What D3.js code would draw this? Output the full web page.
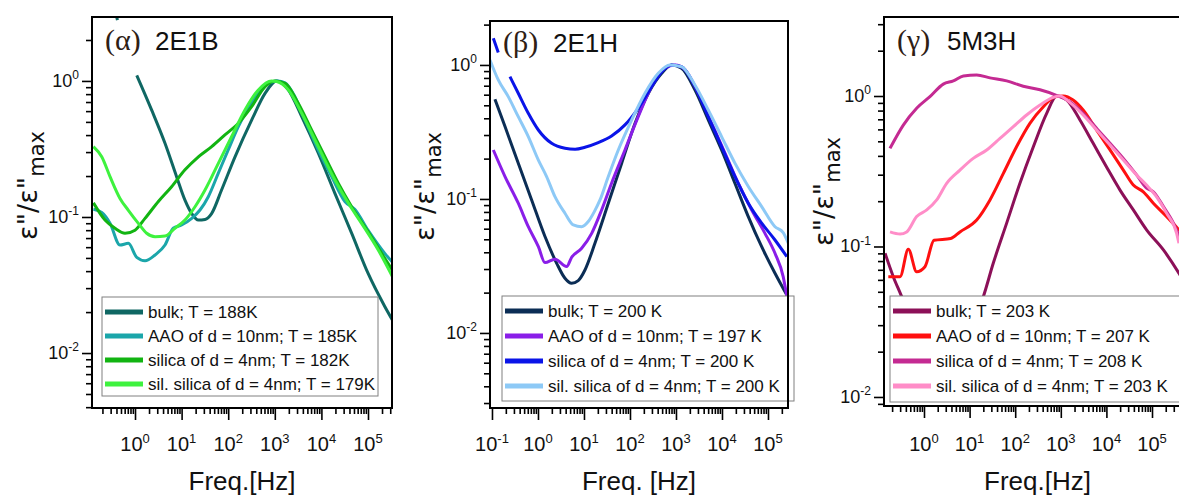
<!DOCTYPE html>
<html>
<head>
<meta charset="utf-8">
<script src="https://cdn.jsdelivr.net/npm/d3@7"></script>
<style>
	body { margin: 0; background: #fff; }
	svg text { font-family: "Liberation Sans", Arial, sans-serif; fill: #111; }
</style>
</head>
<body>
<svg id="chart" width="1179" height="497"></svg>
<script>

// data points: [frequency in Hz, eps''/eps''max], a null value is a gap in the curve
const alphaBulk = [[0.40, 3.0], [0.42, 2.8], [0.6, null], [1.09, 1.1], [2.28, 0.61], [4.4, 0.348], [7.8, 0.198], [11.8, 0.133], [16.5, 0.106], [22.9, 0.095], [31.8, 0.096], [44, 0.106], [72, 0.158], [140, 0.277], [320, 0.517], [617, 0.81], [1100, 1.0], [1950, 0.86], [3780, 0.547], [8600, 0.294], [19500, 0.149], [44500, 0.076], [100000, 0.0386], [229000, 0.022], [350000, 0.017]];
const alphaAAO = [[0.128, 0.114], [0.193, 0.108], [0.291, 0.090], [0.476, 0.0622], [0.72, 0.064], [1.09, 0.0505], [1.64, 0.0477], [2.69, 0.0526], [4.4, 0.0622], [6.6, 0.0826], [10, 0.0873], [16.5, 0.0977], [24.8, 0.1125], [37.4, 0.141], [61.4, 0.21], [100, 0.311], [165, 0.461], [318, 0.685], [617, 0.935], [1150, 1.0], [1660, 0.97], [2700, 0.767], [4440, 0.517], [8560, 0.311], [16600, 0.198], [31900, 0.13], [52000, 0.114], [100000, 0.08], [229000, 0.054], [350000, 0.0457]];
const alphaSilica = [[0.128, 0.127], [0.227, 0.095], [0.372, 0.0826], [0.61, 0.0759], [1.0, 0.080], [1.64, 0.0977], [3.17, 0.13], [6.1, 0.167], [11.8, 0.222], [22.9, 0.277], [44.2, 0.329], [85, 0.401], [165, 0.489], [318, 0.647], [617, 0.908], [1000, 1.0], [1660, 0.96], [3180, 0.685], [6150, 0.436], [11900, 0.277], [23000, 0.177], [44500, 0.119], [100000, 0.078], [229000, 0.0497], [350000, 0.0396]];
const alphaSil = [[0.128, 0.329], [0.193, 0.277], [0.291, 0.198], [0.476, 0.137], [0.72, 0.112], [1.18, 0.0898], [1.78, 0.0759], [2.69, 0.0716], [4.4, 0.0725], [7.2, 0.0826], [11.8, 0.095], [19.4, 0.119], [31.8, 0.158], [61.4, 0.248], [118, 0.389], [229, 0.612], [443, 0.859], [850, 1.0], [1100, 0.99], [1950, 0.86], [3780, 0.578], [8560, 0.329], [19500, 0.187], [38000, 0.126], [72800, 0.0898], [166000, 0.0572], [350000, 0.0354]];

const betaBulk = [[0.116, 0.555], [0.192, 0.347], [0.373, 0.185], [0.728, 0.0983], [1.42, 0.0524], [2.55, 0.0331], [3.86, 0.0256], [5.4, 0.0235], [7.5, 0.0246], [10.5, 0.0295], [17.3, 0.0467], [33.8, 0.0929], [66, 0.185], [129, 0.367], [251, 0.615], [490, 0.867], [800, 1.0], [1320, 0.945], [2580, 0.651], [5030, 0.389], [9800, 0.232], [19100, 0.131], [37300, 0.0738], [72900, 0.044], [142000, 0.0279], [257000, 0.0192]];
const betaAAO = [[0.107, 0.232], [0.192, 0.147], [0.373, 0.0929], [0.616, 0.0621], [1.02, 0.044], [1.42, 0.0335], [2.34, 0.0355], [4.2, 0.0313], [5.4, 0.0367], [8.9, 0.0429], [14.7, 0.0554], [24.2, 0.0828], [39.8, 0.131], [77.8, 0.232], [151, 0.411], [295, 0.689], [575, 0.945], [955, 1.0], [1580, 0.918], [3040, 0.615], [5970, 0.367], [11700, 0.219], [22600, 0.131], [44300, 0.0828], [86000, 0.0554], [142000, 0.0393], [214000, 0.0263], [257000, 0.0187]];
const betaSilica = [[0.107, 1.58], [0.137, 1.24], [0.17, null], [0.246, 0.818], [0.373, 0.615], [0.616, 0.436], [1.02, 0.327], [1.98, 0.26], [3.86, 0.239], [6.4, 0.235], [10.5, 0.243], [20.4, 0.263], [39.8, 0.295], [77.8, 0.357], [151, 0.475], [295, 0.689], [490, 0.891], [800, 1.0], [1320, 0.97], [2580, 0.689], [5030, 0.411], [9800, 0.246], [19100, 0.147], [37300, 0.0929], [72900, 0.066], [142000, 0.0494], [257000, 0.0371]];
const betaSil = [[0.0905, 1.09], [0.137, 0.773], [0.226, 0.58], [0.373, 0.411], [0.616, 0.292], [1.02, 0.195], [1.54, 0.147], [2.34, 0.104], [3.86, 0.0782], [5.86, 0.064], [8.9, 0.0621], [12.4, 0.0678], [16.8, 0.0804], [22.3, 0.0983], [33.8, 0.147], [55.7, 0.232], [109, 0.389], [212, 0.615], [412, 0.867], [740, 1.0], [1320, 0.97], [2580, 0.709], [5030, 0.461], [9800, 0.292], [19100, 0.185], [37300, 0.124], [72900, 0.0877], [142000, 0.0621], [214000, 0.056], [276000, 0.0467]];

const gammaBulk = [[0.14, 0.0901], [0.212, 0.063], [0.324, 0.0464], [0.6, 0.028], [1.2, 0.0165], [2.6, 0.0095], [5.5, 0.0168], [10, 0.028], [20, 0.0464], [33, 0.0773], [65, 0.143], [127, 0.263], [250, 0.46], [490, 0.767], [815, 1.0], [1350, 0.94], [2630, 0.693], [5130, 0.485], [10000, 0.339], [19900, 0.237], [38900, 0.175], [76000, 0.129], [178000, 0.0948], [389000, 0.0664], [600000, 0.053]];
const gammaAAO = [[0.165, 0.063], [0.298, 0.063], [0.453, 0.0958], [0.69, 0.068], [1.05, 0.0734], [1.66, 0.11], [3.85, 0.113], [6.15, 0.125], [14.3, 0.15], [28, 0.204], [55, 0.306], [107, 0.46], [210, 0.658], [415, 0.849], [745, 0.99], [1130, 1.0], [1860, 0.94], [3090, 0.807], [6100, 0.594], [12000, 0.438], [23500, 0.322], [38900, 0.256], [64500, 0.231], [107000, 0.194], [210000, 0.158], [389000, 0.129], [600000, 0.11]];
const gammaSilica = [[0.18, 0.449], [0.352, 0.641], [0.69, 0.829], [1.35, 0.99], [2.65, 1.2], [4.4, 1.26], [7.3, 1.36], [14.3, 1.38], [28, 1.32], [65, 1.26], [150, 1.16], [350, 1.1], [880, 1.0], [1590, 0.916], [3090, 0.767], [6100, 0.61], [12000, 0.485], [23500, 0.385], [45900, 0.299], [76000, 0.244], [107000, 0.231], [178000, 0.184], [295000, 0.143], [389000, 0.119], [600000, 0.1]];
const gammaSil = [[0.18, 0.125], [0.298, 0.121], [0.417, 0.125], [0.69, 0.158], [1.15, 0.175], [1.9, 0.204], [3.14, 0.263], [6.15, 0.322], [12, 0.385], [23.7, 0.438], [46.4, 0.523], [91, 0.625], [178, 0.748], [350, 0.871], [685, 0.98], [950, 1.0], [1590, 0.903], [3090, 0.748], [6100, 0.594], [12000, 0.472], [23500, 0.376], [45900, 0.299], [76000, 0.256], [126000, 0.214], [210000, 0.166], [347000, 0.122], [389000, 0.105]];

// legend texts
const alphaLabels = ["bulk; T = 188K", "AAO of d = 10nm; T = 185K", "silica of d = 4nm; T = 182K", "sil. silica of d = 4nm; T = 179K"];
const betaLabels = ["bulk; T = 200 K", "AAO of d = 10nm; T = 197 K", "silica of d = 4nm; T = 200 K", "sil. silica of d = 4nm; T = 200 K"];
const gammaLabels = ["bulk; T = 203 K", "AAO of d = 10nm; T = 207 K", "silica of d = 4nm; T = 208 K", "sil. silica of d = 4nm; T = 203 K"];

// decades that get a labelled tick
const yDecades = [-2, -1, 0];
const alphaDecades = [0, 1, 2, 3, 4, 5];
const betaDecades = [-1, 0, 1, 2, 3, 4, 5];
const gammaDecades = [0, 1, 2, 3, 4, 5];


let svg = d3.select("#chart");

// minor ticks 2..9 x 10^n inside a log domain
function minorTicks(domain) {
	let out = [];
	let lo = Math.floor(Math.log10(domain[0])), hi = Math.ceil(Math.log10(domain[1]));
	for (let e = lo; e <= hi; e++) {
		for (let k = 2; k <= 9; k++) {
			let v = k * Math.pow(10, e);
			if (v >= domain[0] && v <= domain[1]) out.push(v);
		}
	}
	return out;
}

function powerLabel(sel, exp, big, small) {
	sel.append("tspan").attr("font-size", big).text("10");
	sel.append("tspan").attr("font-size", small).attr("dy", -big * 0.42).text(exp < 0 ? "-" + (-exp) : exp);
}

function drawPanel(p) {

	let x = d3.scaleLog().domain(p.xDomain).range([p.left, p.right]);
	let y = d3.scaleLog().domain(p.yDomain).range([p.bottom, p.top]);

	let g = svg.append("g");

	g.append("clipPath").attr("id", "clip-" + p.id)
		.append("rect")
		.attr("x", p.left).attr("y", p.top)
		.attr("width", p.right - p.left).attr("height", p.bottom - p.top);

	// curves
	let line = d3.line()
		.defined(d => d[1] != null)
		.x(d => x(d[0]))
		.y(d => y(d[1]))
		.curve(d3.curveMonotoneX);

	g.append("g")
		.attr("clip-path", "url(#clip-" + p.id + ")")
		.selectAll("path")
		.data(p.series)
		.enter()
		.append("path")
		.attr("d", d => line(d))
		.attr("fill", "none")
		.attr("stroke", (d, i) => p.colors[i])
		.attr("stroke-width", 3)
		.attr("stroke-linejoin", "round");

	// ticks, bottom axis
	let xMajor = p.decades.map(e => Math.pow(10, e));
	g.append("g")
		.attr("transform", "translate(0," + p.bottom + ")")
		.call(d3.axisBottom(x).tickValues(minorTicks(p.xDomain)).tickSize(6).tickSizeOuter(0).tickFormat(""))
		.call(a => a.select(".domain").remove());
	g.append("g")
		.attr("transform", "translate(0," + p.bottom + ")")
		.call(d3.axisBottom(x).tickValues(xMajor).tickSize(12).tickSizeOuter(0).tickFormat(""))
		.call(a => a.select(".domain").remove());

	// ticks, left axis
	let yMajor = yDecades.map(e => Math.pow(10, e));
	g.append("g")
		.attr("transform", "translate(" + p.left + ",0)")
		.call(d3.axisLeft(y).tickValues(minorTicks(p.yDomain)).tickSize(6).tickSizeOuter(0).tickFormat(""))
		.call(a => a.select(".domain").remove());
	g.append("g")
		.attr("transform", "translate(" + p.left + ",0)")
		.call(d3.axisLeft(y).tickValues(yMajor).tickSize(10).tickSizeOuter(0).tickFormat(""))
		.call(a => a.select(".domain").remove());

	g.selectAll(".tick line").attr("stroke", "#000").attr("stroke-width", 1.6);

	// tick labels
	p.decades.forEach(function (e) {
		g.append("text")
			.attr("x", x(Math.pow(10, e)))
			.attr("y", 451)
			.attr("text-anchor", "middle")
			.call(powerLabel, e, 20, 13);
	});
	yDecades.forEach(function (e) {
		g.append("text")
			.attr("x", p.left - 13)
			.attr("y", y(Math.pow(10, e)) + 6)
			.attr("text-anchor", "end")
			.call(powerLabel, e, 18, 12);
	});

	// legend
	let lg = g.append("g");
	lg.append("rect")
		.attr("x", p.legend[0]).attr("y", p.legend[1])
		.attr("width", p.legend[2]).attr("height", p.legend[3])
		.attr("fill", "#fff")
		.attr("stroke", "#808080")
		.attr("stroke-width", 1);
	p.labels.forEach(function (t, i) {
		let ly = p.legend[1] + 15 + i * p.legendStep;
		lg.append("line")
			.attr("x1", p.legend[0] + 3).attr("x2", p.legend[0] + 41)
			.attr("y1", ly).attr("y2", ly)
			.attr("stroke", p.colors[i])
			.attr("stroke-width", 5);
		lg.append("text")
			.attr("x", p.legend[0] + 46)
			.attr("y", ly + 6)
			.attr("font-size", 17)
			.text(t);
	});

	// frame
	g.append("rect")
		.attr("x", p.left).attr("y", p.top)
		.attr("width", p.right - p.left).attr("height", p.bottom - p.top)
		.attr("fill", "none")
		.attr("stroke", "#000")
		.attr("stroke-width", 2);

	// panel title
	g.append("text")
		.attr("x", p.left + 13)
		.attr("y", p.top + p.titleDy)
		.attr("font-size", 30)
		.style("font-family", "'Liberation Serif', 'Times New Roman', serif")
		.style("fill", "#2e2014")
		.text("(" + p.greek + ")");
	g.append("text")
		.attr("x", p.left + 63)
		.attr("y", p.top + p.titleDy)
		.attr("font-size", 26)
		.text(p.name);

	// axis titles
	g.append("text")
		.attr("x", (p.left + p.right) / 2)
		.attr("y", 490)
		.attr("text-anchor", "middle")
		.attr("font-size", 26)
		.text(p.xTitle);

	let yt = g.append("text")
		.attr("transform", "translate(" + p.yTitle[0] + "," + p.yTitle[1] + ") rotate(-90)")
		.attr("text-anchor", "end")
		.style("font-family", "'DejaVu Sans', sans-serif")
		.attr("font-size", 27);
	yt.append("tspan").text("ε\"/ε\"");
	yt.append("tspan").attr("font-size", 21).attr("dy", 7).text("max");
}


drawPanel({
	id: "a", greek: "α", name: "2E1B",
	left: 92, right: 392, top: 17, bottom: 408,
	xDomain: [Math.pow(10, -0.923), Math.pow(10, 5.515)],
	yDomain: [Math.pow(10, -2.404), Math.pow(10, 0.47)],
	decades: alphaDecades,
	series: [alphaBulk, alphaAAO, alphaSilica, alphaSil],
	colors: ["#0f6763", "#1ba6aa", "#12b412", "#3ef23e"],
	labels: alphaLabels,
	legend: [102, 297, 276, 99], legendStep: 24,
	titleDy: 33, xTitle: "Freq.[Hz]", yTitle: [37, 131]
});

drawPanel({
	id: "b", greek: "β", name: "2E1H",
	left: 490, right: 788, top: 21, bottom: 408,
	xDomain: [Math.pow(10, -1.043), Math.pow(10, 5.435)],
	yDomain: [Math.pow(10, -2.56), Math.pow(10, 0.328)],
	decades: betaDecades,
	series: [betaBulk, betaAAO, betaSilica, betaSil],
	colors: ["#0b2d55", "#8a1ee8", "#0a14e8", "#8dc9f6"],
	labels: betaLabels,
	legend: [502, 296, 292, 105], legendStep: 25,
	titleDy: 31, xTitle: "Freq. [Hz]", yTitle: [434, 132]
});

drawPanel({
	id: "c", greek: "γ", name: "5M3H",
	left: 884, right: 1191, top: 17, bottom: 406,
	xDomain: [Math.pow(10, -0.877), Math.pow(10, 5.855)],
	yDomain: [Math.pow(10, -2.06), Math.pow(10, 0.525)],
	decades: gammaDecades,
	series: [gammaBulk, gammaAAO, gammaSilica, gammaSil],
	colors: ["#8c1058", "#ff1010", "#c42a92", "#ff8dc8"],
	labels: gammaLabels,
	legend: [890, 296, 320, 106], legendStep: 25,
	titleDy: 33, xTitle: "Freq.[Hz]", yTitle: [833, 137]
});

</script>
</body>
</html>
